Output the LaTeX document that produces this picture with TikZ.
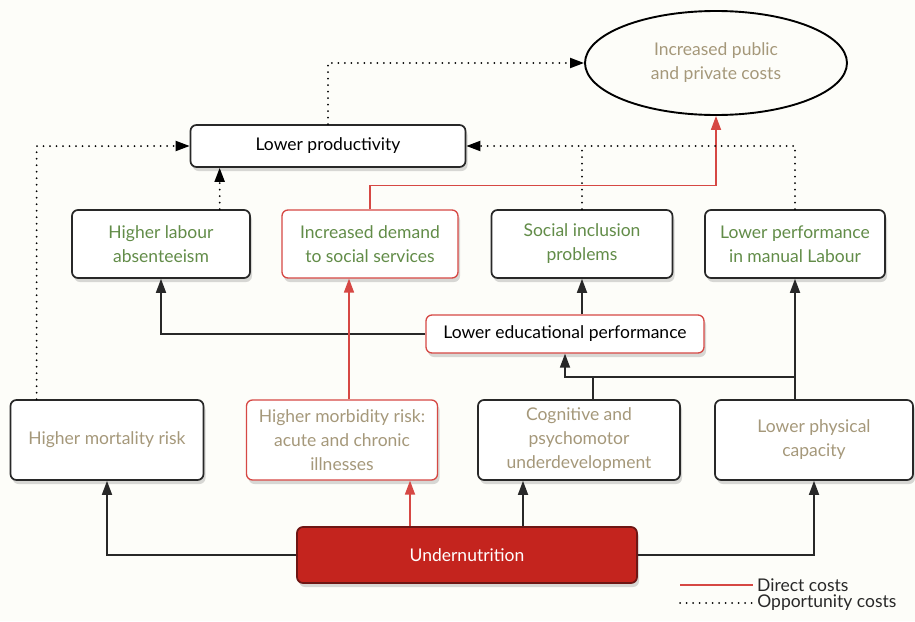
\documentclass[tikz,border=0pt]{standalone}
\usepackage{fontspec}
\setmainfont{Lato}
\usetikzlibrary{arrows.meta,calc,shadows,shapes.geometric}
\definecolor{leafgreen}{RGB}{98,140,72}
\definecolor{sandtan}{RGB}{165,152,122}
\definecolor{costred}{RGB}{214,72,68}
\definecolor{deepred}{RGB}{196,36,30}
\definecolor{darkred}{RGB}{110,22,20}
\definecolor{edgegray}{RGB}{40,40,40}
\definecolor{paper}{RGB}{253,253,249}
\tikzset{
	txt/.style={font=\fontsize{17.5}{24}\selectfont},
	box/.style={txt, draw=edgegray, line width=1.7pt, rounded corners=6pt, fill=white, align=center, inner sep=2pt,
		drop shadow={shadow xshift=2pt, shadow yshift=-4pt, opacity=0.3, fill=gray}},
	redbox/.style={box, draw=costred, line width=1.3pt},
	cause/.style={edgegray, line width=1.7pt, -{Triangle[length=14pt,width=10pt]}},
	direct/.style={costred, line width=1.7pt, -{Triangle[length=14pt,width=10pt]}},
	opp/.style={black, line width=2pt, line cap=round, dash pattern=on 0pt off 6.5pt, -{Triangle[length=14pt,width=10pt]}}
}
\begin{document}
\begin{tikzpicture}[x=1pt,y=-1pt]
			\useasboundingbox[fill=paper] (0,0) rectangle (915,621);

			\node[txt, draw=black, line width=1.9pt, ellipse, minimum width=262pt, minimum height=104pt, text=sandtan, align=center] (cost) at (716,63) {Increased public\\and private costs};
			\node[box, minimum width=275pt, minimum height=42pt] (prod) at (328,146) {Lower productivity};

			\node[box, minimum width=178pt, minimum height=68pt, text=leafgreen] (absent) at (161,244) {Higher labour\\absenteeism};
			\node[redbox, minimum width=176pt, minimum height=68pt, text=leafgreen] (demand) at (370,244) {Increased demand\\to social services};
			\node[box, minimum width=181pt, minimum height=68pt, text=leafgreen] (social) at (582,244) {Social inclusion\\problems};
			\node[box, minimum width=180pt, minimum height=68pt, text=leafgreen] (manual) at (795,244) {Lower performance\\in manual Labour};

			\node[redbox, minimum width=278pt, minimum height=38pt] (edu) at (565,334) {Lower educational performance};

			\node[box, minimum width=193pt, minimum height=80pt, text=sandtan] (mort) at (107,440) {Higher mortality risk};
			\node[redbox, minimum width=191pt, minimum height=80pt, text=sandtan] (morb) at (342,440) {Higher morbidity risk:\\acute and chronic\\illnesses};
			\node[box, minimum width=202pt, minimum height=80pt, text=sandtan] (cogn) at (579,440) {Cognitive and\\psychomotor\\underdevelopment};
			\node[box, minimum width=198pt, minimum height=80pt, text=sandtan] (phys) at (814,440) {Lower physical\\capacity};

			\node[box, draw=darkred, fill=deepred, text=white, minimum width=340pt, minimum height=56pt] (under) at (467,555) {Undernutrition};

			\coordinate (ua) at ([xshift=-57pt]under.north);
			\coordinate (ub) at ([xshift=56pt]under.north);
			\coordinate (uc) at ([xshift=7pt]morb.north);
			\coordinate (ud) at ([xshift=14pt]cogn.north);
			\coordinate (pin) at ($(prod.south west)+(30,0)$);
			\coordinate (mpin) at ($(mort.north west)+(27,0)$);

			\draw[cause] (under.west) -| (mort.south);
			\draw[cause] (under.east) -| (phys.south);
			\draw[direct] (ua) -- (ua |- morb.south);
			\draw[cause] (ub) -- (ub |- cogn.south);

			\draw[cause, -] (ud) -- ++(0,-22) coordinate (knot);
			\draw[cause] (knot -| manual.south) -| (edu.south);
			\draw[cause] (phys.north -| manual.south) -- (manual.south);
			\draw[cause] (edu.west) -| (absent.south);
			\draw[cause] (social.south |- edu.north) -- (social.south);
			\draw[direct] (uc) -- (uc |- demand.south);

			\draw[direct] (demand.north) -- ++(0,-24) -| (cost.south);
			\draw[opp] (mpin) |- (prod.west);
			\draw[opp] (absent.north -| pin) -- (pin);
			\draw[opp] (manual.north) |- (prod.east);
			\draw[opp, -] (social.north) -- (social.north |- prod.east);
			\draw[opp] (prod.north) |- (cost.west);

			\coordinate (legA) at (680,585);
			\coordinate (legB) at (680,603);
			\draw[direct, -] (legA) -- ++(73,0) node[txt, right, text=edgegray] (legDirect) {Direct costs};
			\draw[opp, -] (legB) -- ++(73,0) node[txt, right, text=edgegray] (legOpp) {Opportunity costs};
		\end{tikzpicture}
\end{document}
